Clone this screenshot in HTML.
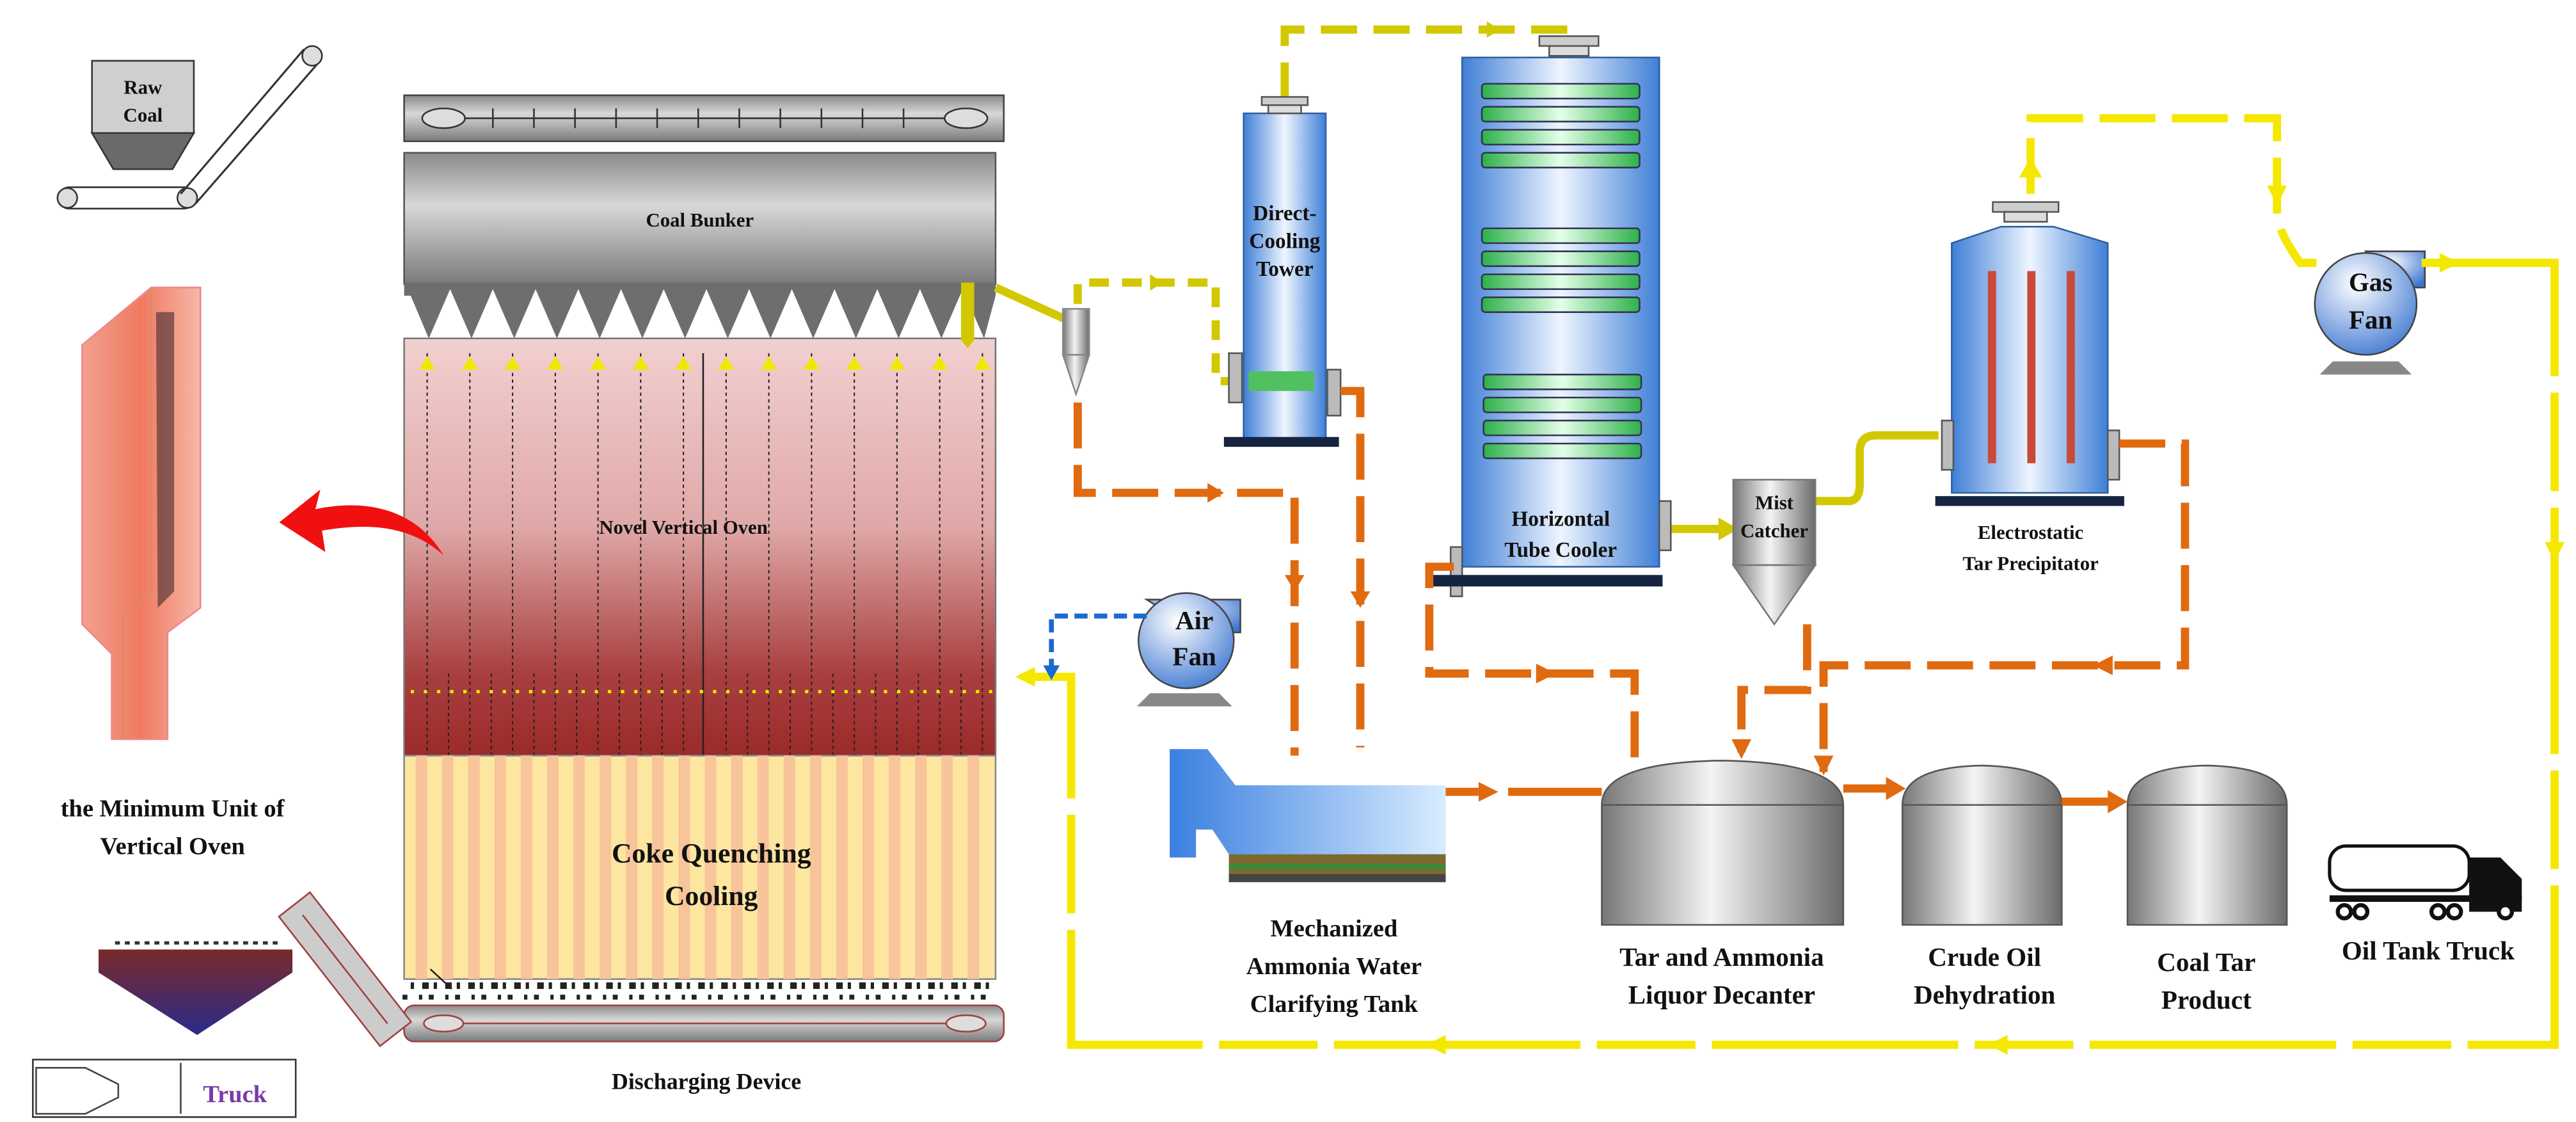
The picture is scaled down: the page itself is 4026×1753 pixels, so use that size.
<!DOCTYPE html>
<html><head><meta charset="utf-8"><style>
html,body{margin:0;padding:0;background:#fff;}
svg{display:block;}
text{font-family:"Liberation Serif",serif;font-weight:bold;fill:#111;}
</style></head><body>
<svg width="4026" height="1753" viewBox="0 0 1568 683" preserveAspectRatio="none" xmlns="http://www.w3.org/2000/svg">
<defs>
<linearGradient id="gray" x1="0" y1="0" x2="0" y2="1"><stop offset="0" stop-color="#8a8a8a"/><stop offset="0.4" stop-color="#d8d8d8"/><stop offset="1" stop-color="#7a7a7a"/></linearGradient>
<linearGradient id="grayh" x1="0" y1="0" x2="1" y2="0"><stop offset="0" stop-color="#777"/><stop offset="0.45" stop-color="#f4f4f4"/><stop offset="1" stop-color="#6a6a6a"/></linearGradient>
<linearGradient id="blue" x1="0" y1="0" x2="1" y2="0"><stop offset="0" stop-color="#3f7fd6"/><stop offset="0.5" stop-color="#eef5ff"/><stop offset="1" stop-color="#3f7fd6"/></linearGradient>
<linearGradient id="green" x1="0" y1="0" x2="1" y2="0"><stop offset="0" stop-color="#2db04a"/><stop offset="0.5" stop-color="#e4ffe8"/><stop offset="1" stop-color="#2db04a"/></linearGradient>
<linearGradient id="oven" x1="0" y1="0" x2="0" y2="1"><stop offset="0" stop-color="#f2d0d0"/><stop offset="0.45" stop-color="#e0a8a8"/><stop offset="0.8" stop-color="#a84040"/><stop offset="1" stop-color="#9c2a2a"/></linearGradient>
<linearGradient id="unit" x1="0" y1="0" x2="1" y2="0"><stop offset="0" stop-color="#f2a090"/><stop offset="0.5" stop-color="#f07a60"/><stop offset="1" stop-color="#f6b8a8"/></linearGradient>
<linearGradient id="hop" x1="0" y1="0" x2="0" y2="1"><stop offset="0" stop-color="#7a2a2a"/><stop offset="1" stop-color="#2a2a8a"/></linearGradient>
<radialGradient id="fan" cx="0.4" cy="0.3" r="0.8"><stop offset="0" stop-color="#fff"/><stop offset="1" stop-color="#3a74d0"/></radialGradient>
<linearGradient id="clar" x1="0" y1="0" x2="1" y2="0"><stop offset="0" stop-color="#3a7fe0"/><stop offset="1" stop-color="#d8ecff"/></linearGradient>
</defs>

<!-- Raw coal -->
<rect x="56" y="37" width="62" height="44" fill="#cfcfcf" stroke="#333"/>
<path d="M56,81L118,81L105,103L69,103z" fill="#6a6a6a" stroke="#333"/>
<text x="87" y="57" font-size="12" text-anchor="middle">Raw</text>
<text x="87" y="74" font-size="12" text-anchor="middle">Coal</text>
<rect x="36" y="114" width="82" height="13" rx="6" fill="#fff" stroke="#333"/>
<circle cx="41" cy="120.5" r="6" fill="#ddd" stroke="#333"/><circle cx="114" cy="120.5" r="6" fill="#ddd" stroke="#333"/>
<path d="M110,118L185,30M119,124L194,38" stroke="#333" stroke-width="1.2"/>
<circle cx="190" cy="34" r="6" fill="#ddd" stroke="#333"/>

<!-- top conveyor -->
<rect x="246" y="58" width="365" height="28" fill="url(#gray)" stroke="#444"/>
<line x1="260" y1="72" x2="597" y2="72" stroke="#333"/>
<ellipse cx="270" cy="72" rx="13" ry="6" fill="#ddd" stroke="#333"/><ellipse cx="588" cy="72" rx="13" ry="6" fill="#ddd" stroke="#333"/>
<g stroke="#333"><line x1="300" y1="66" x2="300" y2="78"/><line x1="325" y1="66" x2="325" y2="78"/><line x1="350" y1="66" x2="350" y2="78"/><line x1="375" y1="66" x2="375" y2="78"/><line x1="400" y1="66" x2="400" y2="78"/><line x1="425" y1="66" x2="425" y2="78"/><line x1="450" y1="66" x2="450" y2="78"/><line x1="475" y1="66" x2="475" y2="78"/><line x1="500" y1="66" x2="500" y2="78"/><line x1="525" y1="66" x2="525" y2="78"/><line x1="550" y1="66" x2="550" y2="78"/></g>

<!-- coal bunker -->
<rect x="246" y="93" width="360" height="80" fill="url(#gray)" stroke="#555"/>
<text x="426" y="138" font-size="12" text-anchor="middle">Coal Bunker</text>
<path d="M246,172H606V180 L599,206 L586,176 L573,206 L560,176 L547,206 L534,176 L521,206 L508,176 L495,206 L482,176 L469,206 L456,176 L443,206 L430,176 L417,206 L404,176 L391,206 L378,176 L365,206 L352,176 L339,206 L326,176 L313,206 L300,176 L287,206 L274,176 L261,206 L250,180 L246,180z" fill="#6e6e6e"/>

<!-- oven -->
<rect x="246" y="206" width="360" height="254" fill="url(#oven)" stroke="#777"/>
<g stroke="#222" stroke-dasharray="2,2" stroke-width="0.8">
<line x1="260" y1="215" x2="260" y2="460"/><line x1="286" y1="215" x2="286" y2="460"/><line x1="312" y1="215" x2="312" y2="460"/><line x1="338" y1="215" x2="338" y2="460"/><line x1="364" y1="215" x2="364" y2="460"/><line x1="390" y1="215" x2="390" y2="460"/><line x1="416" y1="215" x2="416" y2="460"/><line x1="442" y1="215" x2="442" y2="460"/><line x1="468" y1="215" x2="468" y2="460"/><line x1="494" y1="215" x2="494" y2="460"/><line x1="520" y1="215" x2="520" y2="460"/><line x1="546" y1="215" x2="546" y2="460"/><line x1="572" y1="215" x2="572" y2="460"/><line x1="598" y1="215" x2="598" y2="460"/>
<line x1="273" y1="410" x2="273" y2="460"/><line x1="299" y1="410" x2="299" y2="460"/><line x1="325" y1="410" x2="325" y2="460"/><line x1="351" y1="410" x2="351" y2="460"/><line x1="377" y1="410" x2="377" y2="460"/><line x1="403" y1="410" x2="403" y2="460"/><line x1="455" y1="410" x2="455" y2="460"/><line x1="481" y1="410" x2="481" y2="460"/><line x1="507" y1="410" x2="507" y2="460"/><line x1="533" y1="410" x2="533" y2="460"/><line x1="559" y1="410" x2="559" y2="460"/><line x1="585" y1="410" x2="585" y2="460"/>
</g>
<line x1="428" y1="215" x2="428" y2="460" stroke="#222"/>
<g fill="#f0e800">
<path d="M255,225l5,-8l5,8z"/><path d="M281,225l5,-8l5,8z"/><path d="M307,225l5,-8l5,8z"/><path d="M333,225l5,-8l5,8z"/><path d="M359,225l5,-8l5,8z"/><path d="M385,225l5,-8l5,8z"/><path d="M411,225l5,-8l5,8z"/><path d="M437,225l5,-8l5,8z"/><path d="M463,225l5,-8l5,8z"/><path d="M489,225l5,-8l5,8z"/><path d="M515,225l5,-8l5,8z"/><path d="M541,225l5,-8l5,8z"/><path d="M567,225l5,-8l5,8z"/><path d="M593,225l5,-8l5,8z"/>
</g>
<line x1="250" y1="421" x2="606" y2="421" stroke="#f0e800" stroke-width="2" stroke-dasharray="2,6"/>
<text x="416" y="325" font-size="12" text-anchor="middle">Novel Vertical  Oven</text>

<!-- coke quenching -->
<rect x="246" y="460" width="360" height="136" fill="#fde6a0" stroke="#888"/>
<g fill="#f8c49a">
<rect x="253" y="460" width="7" height="136"/><rect x="269" y="460" width="7" height="136"/><rect x="285" y="460" width="7" height="136"/><rect x="301" y="460" width="7" height="136"/><rect x="317" y="460" width="7" height="136"/><rect x="333" y="460" width="7" height="136"/><rect x="349" y="460" width="7" height="136"/><rect x="365" y="460" width="7" height="136"/><rect x="381" y="460" width="7" height="136"/><rect x="397" y="460" width="7" height="136"/><rect x="413" y="460" width="7" height="136"/><rect x="429" y="460" width="7" height="136"/><rect x="445" y="460" width="7" height="136"/><rect x="461" y="460" width="7" height="136"/><rect x="477" y="460" width="7" height="136"/><rect x="493" y="460" width="7" height="136"/><rect x="509" y="460" width="7" height="136"/><rect x="525" y="460" width="7" height="136"/><rect x="541" y="460" width="7" height="136"/><rect x="557" y="460" width="7" height="136"/><rect x="573" y="460" width="7" height="136"/><rect x="589" y="460" width="7" height="136"/>
</g>
<text x="433" y="525" font-size="17" text-anchor="middle">Coke Quenching</text>
<text x="433" y="551" font-size="17" text-anchor="middle">Cooling</text>

<!-- coke pieces & discharge -->
<line x1="250" y1="600" x2="605" y2="600" stroke="#222" stroke-width="4" stroke-dasharray="2,5,4,3"/>
<line x1="245" y1="607" x2="605" y2="607" stroke="#222" stroke-width="3" stroke-dasharray="3,7,2,4"/>
<rect x="246" y="612" width="365" height="22" rx="6" fill="url(#gray)" stroke="#a04040"/>
<line x1="262" y1="623" x2="596" y2="623" stroke="#a04040"/>
<ellipse cx="270" cy="623" rx="12" ry="5" fill="#ddd" stroke="#a04040"/><ellipse cx="588" cy="623" rx="12" ry="5" fill="#ddd" stroke="#a04040"/>
<text x="430" y="663" font-size="14" text-anchor="middle">Discharging  Device</text>
<line x1="262" y1="590" x2="275" y2="602" stroke="#222"/>

<!-- inclined conveyor & hopper -->
<g transform="rotate(52 210 590)"><rect x="160" y="578" width="100" height="24" fill="#ccc" stroke="#a04040"/><line x1="168" y1="590" x2="252" y2="590" stroke="#a04040"/></g>
<path d="M60,578L178,578L178,592L120,630L60,592z" fill="url(#hop)"/>
<line x1="70" y1="574" x2="170" y2="574" stroke="#333" stroke-width="2" stroke-dasharray="3,3"/>
<rect x="20" y="645" width="160" height="35" fill="#fff" stroke="#333"/>
<path d="M22,650h30l20,10v8l-20,10h-30z" fill="none" stroke="#444"/>
<line x1="110" y1="647" x2="110" y2="678" stroke="#444"/>
<text x="143" y="671" font-size="15" text-anchor="middle" style="fill:#7a3aa8">Truck</text>

<!-- minimum unit -->
<path d="M50,210L92,175L122,175L122,370L102,385L102,450L68,450L68,398L50,380z" fill="url(#unit)" stroke="#e88"/>
<path d="M92,175L92,360L75,375L75,450" fill="none" stroke="#d86"/>
<path d="M95,190L106,190L106,360L96,370z" fill="#5a3a3a" opacity="0.7"/>
<text x="105" y="497" font-size="15" text-anchor="middle">the Minimum Unit of</text>
<text x="105" y="520" font-size="15" text-anchor="middle">Vertical Oven</text>
<path d="M270,338C250,305 215,305 192,310L195,298L170,318L198,336L196,323C225,318 250,320 270,338z" fill="#f01010"/>

<!-- pipes olive -->
<g fill="none" stroke="#d2c800" stroke-width="5">
<path d="M606,175L650,195"/>
<path d="M656,185V172H740V232H752" stroke-dasharray="12,8"/>
<path d="M782,60V18H955V25" stroke-dasharray="22,10"/>
<path d="M1010,322H1048"/>
<path d="M1105,305H1125Q1132,305 1132,295V275Q1132,265 1142,265H1180"/>
</g>
<path d="M700,167l8,5l-8,5z M905,13l8,5l-8,5z M1046,315l12,7l-12,7z" fill="#d2c800"/>
<path d="M585,172h8v35l-4,5l-4,-5z" fill="#d2c800"/>

<!-- cyclone -->
<rect x="647" y="188" width="16" height="28" fill="url(#grayh)" stroke="#888"/>
<path d="M647,216L663,216L655,240z" fill="url(#grayh)" stroke="#888"/>

<!-- direct cooling tower -->
<rect x="757" y="69" width="50" height="198" fill="url(#blue)" stroke="#3060a0"/>
<rect x="768" y="59" width="28" height="5" fill="#ccc" stroke="#555"/><rect x="772" y="64" width="20" height="5" fill="#ddd" stroke="#555"/>
<rect x="760" y="226" width="40" height="12" fill="#50c060"/>
<rect x="748" y="215" width="8" height="30" fill="#bbb" stroke="#555"/>
<rect x="808" y="225" width="8" height="28" fill="#bbb" stroke="#555"/>
<rect x="745" y="266" width="70" height="6" fill="#162440"/>
<text x="782" y="134" font-size="13" text-anchor="middle">Direct-</text>
<text x="782" y="151" font-size="13" text-anchor="middle">Cooling</text>
<text x="782" y="168" font-size="13" text-anchor="middle">Tower</text>

<!-- horizontal tube cooler -->
<rect x="890" y="35" width="120" height="310" fill="url(#blue)" stroke="#3060a0"/>
<rect x="937" y="22" width="36" height="6" fill="#ccc" stroke="#555"/><rect x="943" y="28" width="24" height="6" fill="#ddd" stroke="#555"/>
<g fill="url(#green)" stroke="#335">
<rect x="902" y="51" width="96" height="9" rx="2"/><rect x="902" y="65" width="96" height="9" rx="2"/><rect x="902" y="79" width="96" height="9" rx="2"/><rect x="902" y="93" width="96" height="9" rx="2"/>
<rect x="902" y="139" width="96" height="9" rx="2"/><rect x="902" y="153" width="96" height="9" rx="2"/><rect x="902" y="167" width="96" height="9" rx="2"/><rect x="902" y="181" width="96" height="9" rx="2"/>
<rect x="903" y="228" width="96" height="9" rx="2"/><rect x="903" y="242" width="96" height="9" rx="2"/><rect x="903" y="256" width="96" height="9" rx="2"/><rect x="903" y="270" width="96" height="9" rx="2"/>
</g>
<rect x="1010" y="305" width="7" height="30" fill="#bbb" stroke="#555"/>
<rect x="883" y="333" width="7" height="30" fill="#bbb" stroke="#555"/>
<rect x="872" y="350" width="140" height="7" fill="#162440"/>
<text x="950" y="320" font-size="13" text-anchor="middle">Horizontal</text>
<text x="950" y="339" font-size="13" text-anchor="middle">Tube Cooler</text>

<!-- mist catcher -->
<rect x="1055" y="292" width="50" height="52" fill="url(#grayh)" stroke="#777"/>
<path d="M1055,344L1105,344L1080,380z" fill="url(#grayh)" stroke="#777"/>
<text x="1080" y="310" font-size="12" text-anchor="middle">Mist</text>
<text x="1080" y="327" font-size="12" text-anchor="middle">Catcher</text>

<!-- ESP -->
<path d="M1188,148L1218,138L1250,138L1283,148L1283,300L1188,300z" fill="url(#blue)" stroke="#3060a0"/>
<rect x="1213" y="123" width="40" height="6" fill="#ccc" stroke="#555"/><rect x="1220" y="129" width="26" height="6" fill="#ddd" stroke="#555"/>
<g fill="#c84a3a"><rect x="1210" y="165" width="5" height="117"/><rect x="1234" y="165" width="5" height="117"/><rect x="1258" y="165" width="5" height="117"/></g>
<rect x="1182" y="256" width="7" height="30" fill="#bbb" stroke="#555"/>
<rect x="1283" y="262" width="7" height="30" fill="#bbb" stroke="#555"/>
<rect x="1178" y="302" width="115" height="6" fill="#162440"/>
<text x="1236" y="328" font-size="12" text-anchor="middle">Electrostatic</text>
<text x="1236" y="347" font-size="12" text-anchor="middle">Tar  Precipitator</text>

<!-- Gas fan -->
<path d="M1440,153H1476V175H1460z" fill="url(#fan)" stroke="#444"/>
<circle cx="1440" cy="185" r="31" fill="url(#fan)" stroke="#444"/>
<path d="M1420,220L1460,220L1468,228L1412,228z" fill="#888"/>
<text x="1443" y="177" font-size="16" text-anchor="middle">Gas</text>
<text x="1443" y="200" font-size="16" text-anchor="middle">Fan</text>

<!-- Air fan -->
<path d="M698,365H755V385H730z" fill="url(#fan)" stroke="#444"/>
<circle cx="722" cy="390" r="29" fill="url(#fan)" stroke="#444"/>
<path d="M700,422L742,422L750,430L692,430z" fill="#888"/>
<text x="727" y="383" font-size="16" text-anchor="middle">Air</text>
<text x="727" y="405" font-size="16" text-anchor="middle">Fan</text>

<!-- clarifying tank -->
<path d="M712,456H735L752,478H880V520H748L738,505H728V522H712z" fill="url(#clar)"/>
<rect x="748" y="520" width="132" height="12" fill="#7a6a30"/>
<rect x="748" y="526" width="132" height="3" fill="#3a8a3a"/>
<rect x="748" y="532" width="132" height="5" fill="#444"/>
<text x="812" y="570" font-size="15" text-anchor="middle">Mechanized</text>
<text x="812" y="593" font-size="15" text-anchor="middle">Ammonia Water</text>
<text x="812" y="616" font-size="15" text-anchor="middle">Clarifying Tank</text>

<!-- tanks -->
<path d="M975,490Q975,464 1048,463Q1122,464 1122,490V563H975z" fill="url(#grayh)" stroke="#555"/>
<line x1="975" y1="490" x2="1122" y2="490" stroke="#555"/>
<path d="M1158,490Q1158,467 1206,466Q1255,467 1255,490V563H1158z" fill="url(#grayh)" stroke="#555"/>
<line x1="1158" y1="490" x2="1255" y2="490" stroke="#555"/>
<path d="M1295,490Q1295,467 1343,466Q1392,467 1392,490V563H1295z" fill="url(#grayh)" stroke="#555"/>
<line x1="1295" y1="490" x2="1392" y2="490" stroke="#555"/>
<text x="1048" y="588" font-size="16" text-anchor="middle">Tar and Ammonia</text>
<text x="1048" y="611" font-size="16" text-anchor="middle">Liquor Decanter</text>
<text x="1208" y="588" font-size="16" text-anchor="middle">Crude Oil</text>
<text x="1208" y="611" font-size="16" text-anchor="middle">Dehydration</text>
<text x="1343" y="591" font-size="16" text-anchor="middle">Coal Tar</text>
<text x="1343" y="614" font-size="16" text-anchor="middle">Product</text>

<!-- oil tank truck -->
<rect x="1418" y="515" width="85" height="27" rx="10" fill="#fff" stroke="#111" stroke-width="2"/>
<path d="M1503,522H1522L1535,535V555H1503z" fill="#111"/>
<rect x="1418" y="545" width="117" height="4" fill="#111"/>
<g fill="#fff" stroke="#111" stroke-width="2.5"><circle cx="1427" cy="555" r="4"/><circle cx="1437" cy="555" r="4"/><circle cx="1484" cy="555" r="4"/><circle cx="1494" cy="555" r="4"/><circle cx="1525" cy="555" r="4"/></g>
<text x="1478" y="584" font-size="16" text-anchor="middle">Oil Tank Truck</text>

<!-- orange pipes -->
<g fill="none" stroke="#e06a10" stroke-width="5" stroke-dasharray="28,10">
<path d="M656,245V300H788V460"/>
<path d="M816,238H828V455"/>
<path d="M885,345H870V410H995V462"/>
<path d="M1100,380V420H1060V458"/>
<path d="M1290,270H1330V405H1110V470"/>
</g>
<g fill="none" stroke="#e06a10" stroke-width="5">
<path d="M880,482H900 M918,482H975"/>
<path d="M1122,480H1150"/>
<path d="M1255,488H1285"/>
</g>
<g fill="#e06a10">
<path d="M735,294l10,6l-10,6z"/><path d="M782,350l6,10l6,-10z"/><path d="M822,360l6,10l6,-10z"/>
<path d="M900,476l12,6l-12,6z"/><path d="M935,404l12,6l-12,6z"/><path d="M1054,450l6,12l6,-12z"/><path d="M1104,460l6,12l6,-12z"/>
<path d="M1286,399l-12,6l12,6z"/><path d="M1148,473l12,7l-12,7z"/><path d="M1283,481l12,7l-12,7z"/>
</g>

<!-- yellow loop -->
<g fill="none" stroke="#f5e800" stroke-width="5">
<path d="M1236,118V72H1386V130Q1386,140 1400,160H1410" stroke-dasharray="34,10"/>
<path d="M1474,160H1555V636H652V412H625" stroke-dasharray="150,10,60,10"/>
</g>
<g fill="#f5e800">
<path d="M1229,108l7,-12l7,12z"/><path d="M1380,113l6,12l6,-12z"/><path d="M1485,154l12,6l-12,6z"/><path d="M1549,330l6,12l6,-12z"/>
<path d="M1222,630l-12,6l12,6z"/><path d="M880,630l-12,6l12,6z"/><path d="M630,406l-12,6l12,6z"/>
</g>
<!-- blue air -->
<path d="M698,375H640V408" fill="none" stroke="#1a6ad0" stroke-width="3" stroke-dasharray="8,4"/>
<path d="M635,405l5,9l5,-9z" fill="#1a6ad0"/>
</svg>
</body></html>
